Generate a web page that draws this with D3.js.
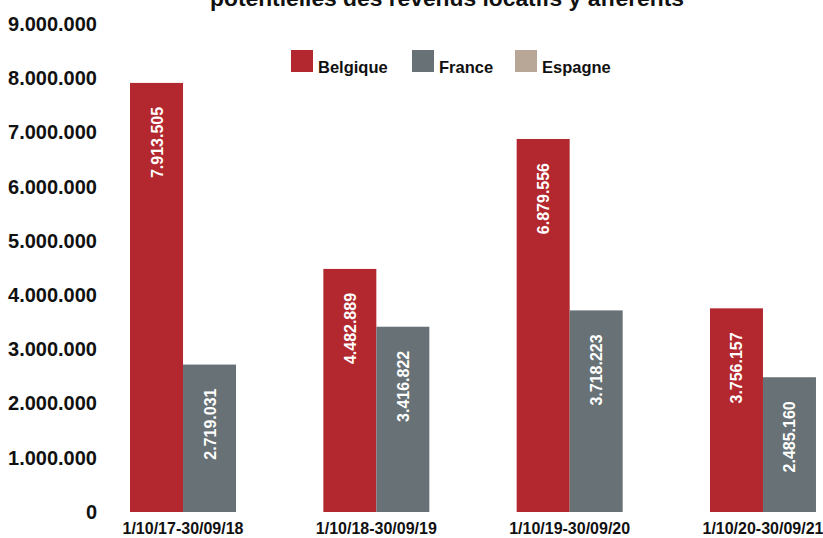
<!DOCTYPE html>
<html>
<head>
<meta charset="utf-8">
<script src="https://cdn.jsdelivr.net/npm/d3@7"></script>
<style>
  body { margin: 0; background: #fff; }
  text { font-family: "Liberation Sans", Arial, sans-serif; font-weight: bold; }
</style>
</head>
<body>
<svg id="chart" width="823" height="538"></svg>
<script>
// Revenus locatifs par pays et par exercice
const periods = ["1/10/17-30/09/18", "1/10/18-30/09/19", "1/10/19-30/09/20", "1/10/20-30/09/21"];
const belgique = [7913505, 4482889, 6879556, 3756157];
const france = [2719031, 3416822, 3718223, 2485160];
const countries = ["Belgique", "France", "Espagne"];
const countryColors = ["#b3282e", "#687276", "#b8a696"];
const yTicks = [0, 1000000, 2000000, 3000000, 4000000, 5000000, 6000000, 7000000, 8000000, 9000000];

const svg = d3.select("#chart");
const fmt = d => d === 0 ? "0" : d3.format(",")(d).replace(/,/g, ".");

const y = d3.scaleLinear()
    .domain([0, 9000000])
    .range([512, 24]);

const x0 = d3.scaleBand()
    .domain(periods)
    .range([42.7, 903.3])
    .padding(0.4517);

const x1 = d3.scaleBand()
    .domain(["Belgique", "France"])
    .range([0, x0.bandwidth()]);

const color = d3.scaleOrdinal().domain(countries).range(countryColors);

// title (cut off at the top in the original)
svg.append("text")
    .attr("x", 447)
    .attr("y", 6)
    .attr("text-anchor", "middle")
    .style("font-size", "22.8px")
    .style("fill", "#111")
    .text("potentielles des revenus locatifs y afférents");

// y axis labels only
svg.append("g")
    .attr("transform", "translate(97,0)")
    .call(d3.axisLeft(y).tickValues(yTicks).tickFormat(fmt).tickSize(0).tickPadding(0))
    .call(g => g.select(".domain").remove())
    .selectAll("text")
    .style("font-family", "Liberation Sans, Arial, sans-serif")
    .style("font-weight", "bold")
    .style("font-size", "20px")
    .style("fill", "#111");

const data = periods.map((p, i) => ({
    period: p,
    values: [
        { country: "Belgique", value: belgique[i] },
        { country: "France", value: france[i] }
    ]
}));

const groups = svg.append("g")
    .selectAll("g")
    .data(data)
    .join("g")
    .attr("transform", d => `translate(${x0(d.period)},0)`);

groups.selectAll("rect")
    .data(d => d.values)
    .join("rect")
    .attr("x", d => x1(d.country))
    .attr("y", d => y(d.value))
    .attr("width", x1.bandwidth())
    .attr("height", d => y(0) - y(d.value))
    .attr("fill", d => color(d.country));

groups.selectAll("text.val")
    .data(d => d.values)
    .join("text")
    .attr("class", "val")
    .attr("transform", d => `translate(${x1(d.country) + x1.bandwidth() / 2 + 6},${y(d.value) + 24}) rotate(-90)`)
    .attr("text-anchor", "end")
    .style("font-size", "16px")
    .style("fill", "#fff")
    .text(d => fmt(d.value));

// x axis labels
svg.append("g")
    .attr("transform", "translate(0,512)")
    .call(d3.axisBottom(x0).tickSize(0).tickPadding(0))
    .call(g => g.select(".domain").remove())
    .selectAll("text")
    .attr("dy", 0)
    .attr("y", 22)
    .style("font-family", "Liberation Sans, Arial, sans-serif")
    .style("font-weight", "bold")
    .style("font-size", "16px")
    .style("fill", "#111");

// legend
const legendX = [291, 412, 515];
const legend = svg.append("g")
    .selectAll("g")
    .data(countries)
    .join("g")
    .attr("transform", (d, i) => `translate(${legendX[i]},50)`);

legend.append("rect")
    .attr("width", 22)
    .attr("height", 22)
    .attr("fill", d => color(d));

legend.append("text")
    .attr("x", 27)
    .attr("y", 23)
    .style("font-size", "16.5px")
    .style("fill", "#111")
    .text(d => d);
</script>
</body>
</html>
